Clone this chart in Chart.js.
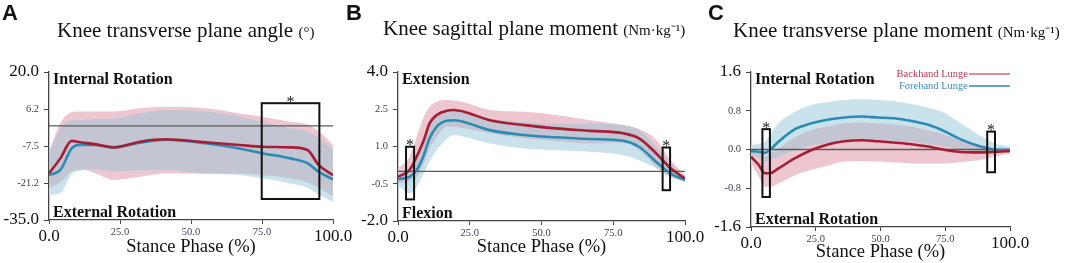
<!DOCTYPE html>
<html>
<head>
<meta charset="utf-8">
<script src="https://cdn.jsdelivr.net/npm/chart.js@4.4.1/dist/chart.umd.min.js"></script>
<style>
  body { margin: 0; background: #fff; width: 1065px; height: 263px; overflow: hidden; position: relative; }
  .panel { position: absolute; top: 0; height: 263px; }
</style>
</head>
<body>
<div class="panel" style="left:0;width:355px"><canvas id="chartA"></canvas></div>
<div class="panel" style="left:345px;width:365px"><canvas id="chartB"></canvas></div>
<div class="panel" style="left:705px;width:360px"><canvas id="chartC"></canvas></div>
<script>
// series names and shared x axis
var seriesNames = ['Backhand Lunge', 'Forehand Lunge'];
var stanceTicks = [0, 25, 50, 75, 100];
var stanceLabels = ['0.0', '25.0', '50.0', '75.0', '100.0'];

// A - knee transverse plane angle (deg)
var stanceA = [0, 4, 8, 11, 16, 23, 32, 41, 55, 67, 75, 85, 91, 95, 100];
var backhandA = [-17.7, -12.1, -5.6, -6.1, -6.8, -8.0, -5.9, -5.0, -6.1, -7.1, -7.8, -8.0, -9.0, -14.6, -18.3];
var forehandA = [-18.3, -16.4, -8.4, -7.1, -7.1, -8.0, -6.3, -5.2, -6.5, -8.4, -10.2, -12.1, -13.9, -17.1, -19.9];
var backhandHiA = [-9.6, 1.0, 5.0, 5.3, 5.3, 5.3, 6.5, 7.1, 6.5, 4.6, 3.4, 1.5, 0.5, -2.0, -7.1];
var backhandLoA = [-23.2, -21.0, -17.0, -16.2, -17.5, -20.1, -18.9, -17.7, -17.7, -17.7, -18.3, -19.5, -21.0, -23.0, -26.3];
var forehandHiA = [-10.0, -1.0, 2.0, 2.2, 2.5, 2.8, 4.6, 5.9, 5.3, 3.4, 1.5, -0.9, -2.0, -4.5, -9.0];
var forehandLoA = [-25.7, -25.0, -18.0, -16.7, -16.1, -16.9, -16.6, -16.4, -17.7, -18.3, -19.5, -21.4, -23.0, -25.5, -28.2];
var yTicksA = [-35, -21.25, -7.5, 6.25, 20];
var yLabelsA = ['-35.0', '-21.2', '-7.5', '6.2', '20.0'];
var boxesA = [[74.9, 95.2, 8.4, -27.2]];

// B - knee sagittal plane moment (Nm/kg)
var stanceB = [0, 4, 6.5, 9, 11, 13.5, 17, 19.5, 23, 32, 44, 55, 67, 78.5, 84, 90, 95, 100];
var backhandB = [-0.22, 0.05, 0.59, 1.26, 1.93, 2.27, 2.44, 2.47, 2.40, 2.06, 1.86, 1.73, 1.63, 1.53, 1.33, 0.72, 0.12, -0.29];
var forehandB = [-0.31, -0.22, 0.05, 0.65, 1.33, 1.80, 2.04, 2.06, 1.99, 1.66, 1.46, 1.37, 1.30, 1.23, 0.99, 0.38, -0.09, -0.35];
var backhandHiB = [0.12, 0.59, 1.39, 2.20, 2.60, 2.80, 2.87, 2.85, 2.78, 2.47, 2.40, 2.27, 2.06, 1.86, 1.70, 1.26, 0.45, -0.15];
var backhandLoB = [-0.49, -0.40, -0.22, 0.32, 0.90, 1.39, 1.80, 1.80, 1.73, 1.53, 1.33, 1.22, 1.12, 1.15, 0.85, 0.18, -0.22, -0.42];
var forehandHiB = [-0.09, 0.20, 0.59, 1.26, 1.80, 2.20, 2.45, 2.45, 2.40, 2.13, 1.99, 1.93, 1.93, 1.86, 1.66, 0.99, 0.32, -0.22];
var forehandLoB = [-0.56, -0.89, -0.62, -0.09, 0.40, 0.85, 1.30, 1.46, 1.39, 1.12, 0.92, 0.85, 0.79, 0.65, 0.45, 0.12, -0.22, -0.42];
var yTicksB = [-2, -0.5, 1, 2.5, 4];
var yLabelsB = ['-2.0', '-0.5', '1.0', '2.5', '4.0'];
var boxesB = [[2.8, 5.6, 0.99, -1.13], [92.2, 94.8, 0.96, -0.76]];

// C - knee transverse plane moment (Nm/kg)
var stanceC = [0, 3, 5.4, 7.3, 10.6, 17, 23.4, 30, 36, 43, 49, 56, 62, 68.5, 75, 81, 88, 94, 100];
var backhandC = [-0.15, -0.32, -0.49, -0.49, -0.39, -0.18, -0.01, 0.11, 0.17, 0.19, 0.17, 0.14, 0.11, 0.06, -0.01, -0.05, -0.06, -0.05, -0.03];
var forehandC = [-0.03, -0.05, -0.07, -0.01, 0.16, 0.42, 0.54, 0.62, 0.66, 0.68, 0.66, 0.64, 0.59, 0.51, 0.37, 0.21, 0.07, 0.00, -0.01];
var backhandHiC = [-0.01, -0.08, -0.15, -0.08, 0.02, 0.26, 0.40, 0.48, 0.54, 0.55, 0.54, 0.51, 0.47, 0.39, 0.30, 0.19, 0.09, 0.02, 0.02];
var backhandLoC = [-0.29, -0.56, -0.77, -0.77, -0.70, -0.53, -0.42, -0.33, -0.25, -0.24, -0.25, -0.27, -0.29, -0.29, -0.29, -0.26, -0.22, -0.15, -0.08];
var forehandHiC = [0.09, 0.12, 0.16, 0.30, 0.54, 0.78, 0.92, 0.98, 1.02, 1.04, 1.02, 0.99, 0.94, 0.86, 0.75, 0.54, 0.30, 0.13, 0.06];
var forehandLoC = [-0.11, -0.18, -0.25, -0.22, -0.15, -0.01, 0.09, 0.14, 0.19, 0.19, 0.19, 0.17, 0.16, 0.11, 0.06, 0.00, -0.05, -0.07, -0.05];
var yTicksC = [-1.6, -0.8, 0, 0.8, 1.6];
var yLabelsC = ['-1.6', '-0.8', '0.0', '0.8', '1.6'];
var boxesC = [[4.4, 7.3, 0.42, -0.98], [91.2, 94.2, 0.37, -0.47]];

var serif = '"Liberation Serif", "Times New Roman", serif';
var sans = '"Liberation Sans", Arial, sans-serif';
var backhandColor = '#a81d33';
var forehandColor = '#2a8bb3';
var backhandBand = '#eec6cf';
var forehandBand = '#c9e2ec';
var sharedBand = '#c4c5d2';

function pts(xs, ys) {
  return xs.map(function(x, i) { return { x: x, y: ys[i] }; });
}

function bandPair(xs, hi, lo, color, order) {
  return [
    { data: pts(xs, hi), fill: '+1', backgroundColor: color, borderColor: 'transparent', borderWidth: 0, pointRadius: 0, cubicInterpolationMode: 'monotone', order: order + 1 },
    { data: pts(xs, lo), fill: false, borderColor: 'transparent', borderWidth: 0, pointRadius: 0, cubicInterpolationMode: 'monotone', order: order }
  ];
}

// end ticks are big, the middle ones small
function isEndTick(ctx) {
  var t = ctx.scale && ctx.scale.ticks;
  if (!t || ctx.index === undefined) return true;
  return ctx.index === 0 || ctx.index === t.length - 1;
}
function tickFont(ctx) {
  return isEndTick(ctx) ? { family: serif, size: 17 } : { family: serif, size: 10.5 };
}
function tickColor(ctx) {
  return isEndTick(ctx) ? '#111' : '#3a3f55';
}

function extrasPlugin(p) {
  return {
    id: 'extras',
    afterDatasetDraw: function(chart, args) {
      // zero reference line, over the bands but under the means
      if (args.index !== 5) return;
      var c = chart.ctx, a = chart.chartArea;
      var y0 = chart.scales.y.getPixelForValue(0);
      c.save();
      c.strokeStyle = '#5a5a5a';
      c.lineWidth = 1.3;
      c.beginPath();
      c.moveTo(a.left, y0);
      c.lineTo(a.right, y0);
      c.stroke();
      c.restore();
    },
    afterDraw: function(chart) {
      var c = chart.ctx, a = chart.chartArea;
      var xs = chart.scales.x, ys = chart.scales.y;
      c.save();
      // significance boxes
      p.boxes.forEach(function(b) {
        var x0 = xs.getPixelForValue(b[0]), x1 = xs.getPixelForValue(b[1]);
        var y0 = ys.getPixelForValue(b[2]), y1 = ys.getPixelForValue(b[3]);
        c.strokeStyle = '#111';
        c.lineWidth = 2;
        c.strokeRect(x0, y0, x1 - x0, y1 - y0);
        c.fillStyle = '#222';
        c.font = '16px ' + serif;
        c.textAlign = 'center';
        c.textBaseline = 'alphabetic';
        c.fillText('*', (x0 + x1) / 2, y0 + 3.5);
      });
      // direction notes
      c.fillStyle = '#111';
      c.textAlign = 'left';
      c.textBaseline = 'alphabetic';
      c.font = 'bold 16px ' + serif;
      c.fillText(p.notes[0], a.left + 4, a.top + 12);
      c.fillText(p.notes[1], a.left + 4, a.bottom - 3);
      // title
      c.font = '21px ' + serif;
      c.fillText(p.title[0], p.titleX, p.titleY);
      var w = c.measureText(p.title[0] + ' ').width;
      c.font = '15px ' + serif;
      c.fillText(p.title[1], p.titleX + w, p.titleY);
      // panel letter
      c.font = 'bold 22px ' + sans;
      c.fillText(p.letter, p.letterX, 20);
      // legend
      if (p.legend) {
        var rows = [[seriesNames[0], '#b8394f', '#d46a7a', 77], [seriesNames[1], '#3c8fb8', forehandColor, 89]];
        c.font = '10.5px ' + serif;
        c.textAlign = 'right';
        rows.forEach(function(r) {
          c.fillStyle = r[1];
          c.fillText(r[0], p.legend[0], r[3]);
          c.strokeStyle = r[2];
          c.lineWidth = 1.6;
          c.beginPath();
          c.moveTo(p.legend[0] + 1, r[3] - 3);
          c.lineTo(p.legend[1], r[3] - 3);
          c.stroke();
        });
      }
      c.restore();
    }
  };
}

function makePanel(id, p) {
  var ovHi = p.backhandHi.map(function(v, i) { return Math.min(v, p.forehandHi[i]); });
  var ovLo = p.backhandLo.map(function(v, i) { return Math.min(Math.max(v, p.forehandLo[i]), ovHi[i]); });
  var datasets = []
    .concat(bandPair(p.xs, p.backhandHi, p.backhandLo, backhandBand, 6))
    .concat(bandPair(p.xs, p.forehandHi, p.forehandLo, forehandBand, 4))
    .concat(bandPair(p.xs, ovHi, ovLo, sharedBand, 2));
  datasets.push({ label: seriesNames[1], data: pts(p.xs, p.forehand), borderColor: forehandColor, borderWidth: 2.6, pointRadius: 0, fill: false, cubicInterpolationMode: 'monotone', order: 1 });
  datasets.push({ label: seriesNames[0], data: pts(p.xs, p.backhand), borderColor: backhandColor, borderWidth: 2.6, pointRadius: 0, fill: false, cubicInterpolationMode: 'monotone', order: 0 });

  var ctx = document.getElementById(id).getContext('2d');
  return new Chart(ctx, {
    type: 'line',
    data: { datasets: datasets },
    options: {
      responsive: true,
      maintainAspectRatio: false,
      animation: false,
      layout: { padding: { left: 0, right: p.padRight, top: 72, bottom: 0 } },
      plugins: { legend: { display: false }, tooltip: { enabled: false } },
      scales: {
        x: {
          type: 'linear', min: 0, max: 100,
          afterBuildTicks: function(s) { s.ticks = stanceTicks.map(function(v) { return { value: v }; }); },
          afterFit: function(s) { s.height = p.xHeight; },
          ticks: { autoSkip: false, maxRotation: 0, padding: 2, font: tickFont, color: tickColor,
                   callback: function(v, i) { return stanceLabels[i]; } },
          grid: { drawOnChartArea: false, drawTicks: true, tickLength: 4, color: '#444' },
          border: { color: '#444', width: 1.3 },
          title: { display: true, text: 'Stance Phase (%)', color: '#111', font: { family: serif, size: 18.5 },
                   padding: { top: 0, bottom: p.titlePad } }
        },
        y: {
          min: p.yTicks[0], max: p.yTicks[p.yTicks.length - 1],
          afterBuildTicks: function(s) { s.ticks = p.yTicks.map(function(v) { return { value: v }; }); },
          afterFit: function(s) { s.width = p.yWidth; },
          ticks: { autoSkip: false, padding: 5, font: tickFont, color: tickColor,
                   callback: function(v, i) { return p.yLabels[i]; } },
          grid: { drawOnChartArea: false, drawTicks: true, tickLength: 5, color: '#444' },
          border: { color: '#444', width: 1.3 }
        }
      }
    },
    plugins: [extrasPlugin(p)]
  });
}

window.onload = function() {
  makePanel('chartA', {
    xs: stanceA, backhand: backhandA, forehand: forehandA,
    backhandHi: backhandHiA, backhandLo: backhandLoA, forehandHi: forehandHiA, forehandLo: forehandLoA,
    yTicks: yTicksA, yLabels: yLabelsA, boxes: boxesA,
    notes: ['Internal Rotation', 'External Rotation'],
    title: ['Knee transverse plane angle', '(°)'], titleX: 57, titleY: 37,
    letter: 'A', letterX: 2,
    yWidth: 49, xHeight: 43, padRight: 22, titlePad: 5
  });
  makePanel('chartB', {
    xs: stanceB, backhand: backhandB, forehand: forehandB,
    backhandHi: backhandHiB, backhandLo: backhandLoB, forehandHi: forehandHiB, forehandLo: forehandLoB,
    yTicks: yTicksB, yLabels: yLabelsB, boxes: boxesB,
    notes: ['Extension', 'Flexion'],
    title: ['Knee sagittal plane moment', '(Nm·kg⁻¹)'], titleX: 38, titleY: 35,
    letter: 'B', letterX: 1,
    yWidth: 53, xHeight: 42, padRight: 25, titlePad: 5
  });
  makePanel('chartC', {
    xs: stanceC, backhand: backhandC, forehand: forehandC,
    backhandHi: backhandHiC, backhandLo: backhandLoC, forehandHi: forehandHiC, forehandLo: forehandLoC,
    yTicks: yTicksC, yLabels: yLabelsC, boxes: boxesC,
    notes: ['Internal Rotation', 'External Rotation'],
    title: ['Knee transverse plane moment', '(Nm·kg⁻¹)'], titleX: 28, titleY: 37,
    letter: 'C', letterX: 3,
    legend: [263, 305],
    yWidth: 46, xHeight: 36, padRight: 55, titlePad: 0
  });
};
</script>
</body>
</html>
